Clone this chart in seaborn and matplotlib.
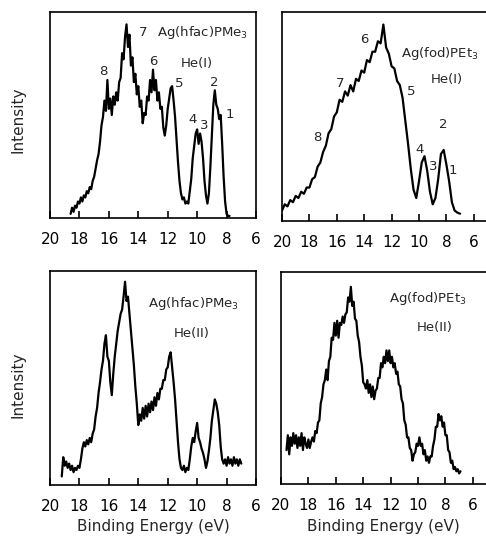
import numpy as np
import pandas as pd
import matplotlib
matplotlib.use("Agg")
import matplotlib.pyplot as plt
import seaborn as sns

# ---------------- data ----------------
e_tl = [18.6, 18.5, 18.4, 18.3, 18.2, 18.1, 18.0, 17.9, 17.8, 17.7, 17.6, 17.5, 17.4, 17.3, 17.2, 17.1,
        17.0, 16.9, 16.8, 16.7, 16.6, 16.5, 16.4, 16.3, 16.2, 16.1, 16.0, 15.9, 15.8, 15.7, 15.6, 15.5,
        15.4, 15.3, 15.2, 15.1, 15.0, 14.9, 14.8, 14.7, 14.6, 14.5, 14.4, 14.3, 14.2, 14.1, 14.0, 13.9,
        13.8, 13.7, 13.6, 13.5, 13.4, 13.3, 13.2, 13.1, 13.0, 12.9, 12.8, 12.7, 12.6, 12.5, 12.4, 12.3,
        12.2, 12.1, 12.0, 11.9, 11.8, 11.7, 11.6, 11.5, 11.4, 11.3, 11.2, 11.1, 11.0, 10.9, 10.8, 10.7,
        10.6, 10.5, 10.4, 10.3, 10.2, 10.1, 10.0, 9.9, 9.8, 9.7, 9.6, 9.5, 9.4, 9.3, 9.2, 9.1,
        9.0, 8.9, 8.8, 8.7, 8.6, 8.5, 8.4, 8.3, 8.2, 8.1, 8.0, 7.9, 7.8]
i_tl = [2, 5, 3, 6, 5, 8, 7, 10, 8, 11, 10, 13, 12, 15, 14, 18,
        20, 24, 28, 31, 37, 45, 49, 57, 52, 67, 53, 58, 50, 59, 55, 61,
        57, 66, 68, 80, 77, 88, 94, 83, 89, 74, 78, 66, 70, 60, 64, 54,
        57, 46, 51, 50, 59, 57, 67, 61, 72, 62, 67, 57, 61, 53, 54, 44,
        40, 45, 53, 58, 63, 64, 57, 49, 38, 27, 18, 12, 9, 10, 7, 8,
        7, 13, 19, 29, 35, 41, 43, 36, 41, 37, 29, 18, 11, 7, 12, 25,
        40, 55, 62, 55, 53, 48, 50, 36, 20, 8, 2, 1, 1]

e_tr = [20.0, 19.8, 19.6, 19.4, 19.2, 19.0, 18.8, 18.6, 18.4, 18.2, 18.0, 17.8, 17.6, 17.4, 17.2, 17.0,
        16.8, 16.6, 16.4, 16.2, 16.0, 15.8, 15.6, 15.4, 15.2, 15.0, 14.8, 14.6, 14.4, 14.2, 14.0, 13.8,
        13.6, 13.4, 13.2, 13.0, 12.8, 12.6, 12.4, 12.2, 12.0, 11.8, 11.6, 11.4, 11.2, 11.0, 10.8, 10.6,
        10.4, 10.2, 10.0, 9.8, 9.6, 9.4, 9.2, 9.0, 8.8, 8.6, 8.4, 8.2, 8.0, 7.8, 7.6, 7.4, 7.2, 7.0]
i_tr = [5, 8, 7, 10, 9, 12, 11, 14, 13, 16, 16, 20, 21, 26, 28, 33,
        36, 42, 44, 50, 52, 58, 57, 62, 60, 65, 62, 68, 67, 72, 71, 77,
        76, 81, 81, 86, 85, 94, 83, 80, 74, 73, 67, 65, 59, 48, 37, 25,
        15, 11, 19, 28, 31, 24, 14, 8, 11, 20, 32, 34, 27, 19, 9, 5, 4, 3.5]

e_bl = [19.2, 19.1, 19.0, 18.9, 18.8, 18.7, 18.6, 18.5, 18.4, 18.3, 18.2, 18.1, 18.0, 17.9, 17.8, 17.7,
        17.6, 17.5, 17.4, 17.3, 17.2, 17.1, 17.0, 16.9, 16.8, 16.7, 16.6, 16.5, 16.4, 16.3, 16.2, 16.1,
        16.0, 15.9, 15.8, 15.7, 15.6, 15.5, 15.4, 15.3, 15.2, 15.1, 15.0, 14.9, 14.8, 14.7, 14.6, 14.5,
        14.4, 14.3, 14.2, 14.1, 14.0, 13.9, 13.8, 13.7, 13.6, 13.5, 13.4, 13.3, 13.2, 13.1, 13.0, 12.9,
        12.8, 12.7, 12.6, 12.5, 12.4, 12.3, 12.2, 12.1, 12.0, 11.9, 11.8, 11.7, 11.6, 11.5, 11.4, 11.3,
        11.2, 11.1, 11.0, 10.9, 10.8, 10.7, 10.6, 10.5, 10.4, 10.3, 10.2, 10.1, 10.0, 9.9, 9.8, 9.7,
        9.6, 9.5, 9.4, 9.3, 9.2, 9.1, 9.0, 8.9, 8.8, 8.7, 8.6, 8.5, 8.4, 8.3, 8.2, 8.1,
        8.0, 7.9, 7.8, 7.7, 7.6, 7.5, 7.4, 7.3, 7.2, 7.1, 7.0]
i_bl = [4, 13, 9, 11, 8, 10, 7, 9, 6, 8, 7, 9, 8, 12, 17, 20,
        18, 21, 19, 22, 20, 24, 26, 32, 36, 43, 48, 54, 58, 66, 70, 60,
        58, 48, 42, 52, 60, 66, 72, 76, 80, 82, 88, 95, 86, 88, 80, 72,
        64, 56, 46, 38, 28, 33, 30, 36, 31, 37, 32, 38, 34, 39, 35, 41,
        37, 43, 40, 45, 45, 49, 49, 54, 55, 60, 62, 55, 48, 40, 30, 20,
        12, 8, 7, 9, 6, 8, 7, 12, 18, 22, 20, 25, 29, 22, 20, 17,
        15, 12, 8, 11, 16, 22, 30, 35, 40, 38, 34, 28, 18, 12, 10, 12,
        9, 13, 10, 12, 9, 13, 10, 12, 9, 12, 10]

e_br = [19.6, 19.5, 19.4, 19.3, 19.2, 19.1, 19.0, 18.9, 18.8, 18.7, 18.6, 18.5, 18.4, 18.3, 18.2, 18.1,
        18.0, 17.9, 17.8, 17.7, 17.6, 17.5, 17.4, 17.3, 17.2, 17.1, 17.0, 16.9, 16.8, 16.7, 16.6, 16.5,
        16.4, 16.3, 16.2, 16.1, 16.0, 15.9, 15.8, 15.7, 15.6, 15.5, 15.4, 15.3, 15.2, 15.1, 15.0, 14.9,
        14.8, 14.7, 14.6, 14.5, 14.4, 14.3, 14.2, 14.1, 14.0, 13.9, 13.8, 13.7, 13.6, 13.5, 13.4, 13.3,
        13.2, 13.1, 13.0, 12.9, 12.8, 12.7, 12.6, 12.5, 12.4, 12.3, 12.2, 12.1, 12.0, 11.9, 11.8, 11.7,
        11.6, 11.5, 11.4, 11.3, 11.2, 11.1, 11.0, 10.9, 10.8, 10.7, 10.6, 10.5, 10.4, 10.3, 10.2, 10.1,
        10.0, 9.9, 9.8, 9.7, 9.6, 9.5, 9.4, 9.3, 9.2, 9.1, 9.0, 8.9, 8.8, 8.7, 8.6, 8.5,
        8.4, 8.3, 8.2, 8.1, 8.0, 7.9, 7.8, 7.7, 7.6, 7.5, 7.4, 7.3, 7.2, 7.1, 7.0, 6.9]
i_br = [16, 23, 14, 22, 18, 24, 19, 23, 17, 22, 18, 24, 16, 22, 19, 17,
        21, 17, 20, 22, 20, 25, 24, 29, 30, 38, 41, 47, 49, 54, 49, 58,
        60, 69, 68, 76, 70, 77, 69, 76, 75, 79, 76, 80, 81, 88, 86, 93,
        84, 86, 78, 77, 70, 67, 60, 56, 48, 47, 45, 49, 43, 47, 41, 46,
        40, 44, 45, 50, 50, 57, 55, 60, 57, 63, 58, 63, 57, 60, 55, 57,
        52, 53, 47, 46, 40, 38, 30, 28, 22, 22, 17, 16, 11, 14, 15, 19,
        18, 22, 18, 19, 14, 16, 11, 13, 10, 13, 13, 18, 21, 27, 27, 33,
        30, 32, 27, 29, 23, 23, 16, 15, 10, 11, 7, 8, 6, 7, 5, 6]

tick_vals = [20, 18, 16, 14, 12, 10, 8, 6]
tick_labels = ["20", "18", "16", "14", "12", "10", "8", "6"]

# ---------------- figure ----------------
sns.set_theme(style="ticks")
plt.rcParams['font.family'] = ['DejaVu Sans']
plt.rcParams['mathtext.fontset'] = 'dejavusans'

W, H = 486, 543
fig = plt.figure(figsize=(W / 100, H / 100), dpi=100)
fig.patch.set_facecolor("white")


def add_ax(l, t, r, b):
    return fig.add_axes([l / W, 1 - b / H, (r - l) / W, (b - t) / H])


panels = [
    (add_ax(50, 12, 256, 218), e_tl, i_tl, (20, 6), True),
    (add_ax(282, 12, 486, 221), e_tr, i_tr, (20, 20 - 204 / 13.7), False),
    (add_ax(50, 271, 256, 485), e_bl, i_bl, (20, 6), True),
    (add_ax(281, 272, 486, 484), e_br, i_br, (20, 20 - 205 / 13.7), False),
]

for ax, e, inten, xl, right in panels:
    df = pd.DataFrame({"E": e, "I": inten})
    sns.lineplot(data=df, x="E", y="I", ax=ax, color="black", lw=1.6,
                 sort=False, estimator=None)
    ax.set_xlim(*xl)
    ax.set_ylim(0, 100)
    ax.set_xticks(tick_vals)
    ax.set_xticklabels(tick_labels)
    ax.set_yticks([])
    ax.set_xlabel("")
    ax.set_ylabel("")
    ax.tick_params(axis="x", direction="in", length=5, width=1.2, pad=10,
                   labelsize=11, colors="black")
    for s in ax.spines.values():
        s.set_linewidth(1.2)
        s.set_color("black")
    ax.spines["right"].set_visible(right)
    ax.set_facecolor("white")

ax_tl, ax_tr, ax_bl, ax_br = [p[0] for p in panels]

fs_t = 9.5
fs_n = 9.5
# top-left annotations
ax_tl.text(12.75, 90, "Ag(hfac)PMe$_3$", fontsize=fs_t, ha="left", va="center")
ax_tl.text(10.0, 75, "He(I)", fontsize=fs_t, ha="center", va="center")
for lab, x, y in [("7", 13.7, 90), ("8", 16.4, 71), ("6", 13.0, 76), ("5", 11.2, 65.5),
                  ("4", 10.3, 47.6), ("3", 9.5, 45), ("2", 8.85, 66), ("1", 7.8, 50)]:
    ax_tl.text(x, y, lab, fontsize=fs_n, ha="center", va="center")

# top-right annotations
ax_tr.text(11.3, 80, "Ag(fod)PEt$_3$", fontsize=fs_t, ha="left", va="center")
ax_tr.text(8.0, 67.5, "He(I)", fontsize=fs_t, ha="center", va="center")
for lab, x, y in [("6", 14.0, 87), ("7", 15.77, 66), ("5", 10.6, 62), ("8", 17.45, 40),
                  ("2", 8.25, 46), ("4", 9.93, 34), ("3", 8.98, 26), ("1", 7.5, 24.4)]:
    ax_tr.text(x, y, lab, fontsize=fs_n, ha="center", va="center")

# bottom annotations
ax_bl.text(13.33, 85, "Ag(hfac)PMe$_3$", fontsize=fs_t, ha="left", va="center")
ax_bl.text(10.34, 71, "He(II)", fontsize=fs_t, ha="center", va="center")
ax_br.text(12.1, 87.7, "Ag(fod)PEt$_3$", fontsize=fs_t, ha="left", va="center")
ax_br.text(8.76, 74, "He(II)", fontsize=fs_t, ha="center", va="center")

# axis titles
for yc in (120, 385):
    fig.text(18 / W, 1 - yc / H, "Intensity", rotation=90, fontsize=11,
             ha="center", va="center")
for xc in (153, 383):
    fig.text(xc / W, 1 - 526 / H, "Binding Energy (eV)", fontsize=11,
             ha="center", va="center")

fig.savefig("out.png", dpi=100, facecolor="white")
